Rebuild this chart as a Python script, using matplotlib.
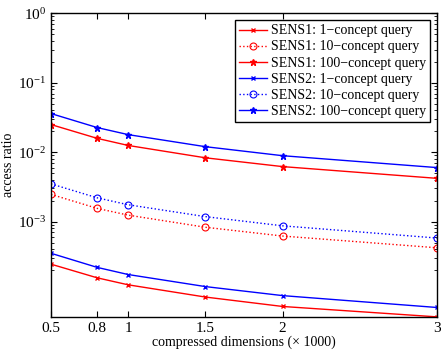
import matplotlib
matplotlib.use("Agg")
import matplotlib.pyplot as plt
from matplotlib.ticker import FixedLocator, NullFormatter

plt.rcParams['font.family'] = ['Liberation Serif', 'DejaVu Serif']
plt.rcParams['mathtext.fontset'] = 'stix'

dims = [0.5, 0.8, 1, 1.5, 2, 3]
xtick_labels = ['0.5', '0.8', '1', '1.5', '2', '3']

sens1_1 = [2.44e-4, 1.55e-4, 1.23e-4, 8.2e-5, 6.0e-5, 4.25e-5]
sens1_10 = [2.47e-3, 1.55e-3, 1.24e-3, 8.3e-4, 6.2e-4, 4.2e-4]
sens1_100 = [0.025, 0.0158, 0.0125, 0.0083, 0.0062, 0.0042]
sens2_1 = [3.5e-4, 2.19e-4, 1.73e-4, 1.16e-4, 8.6e-5, 5.8e-5]
sens2_10 = [3.5e-3, 2.2e-3, 1.75e-3, 1.18e-3, 8.7e-4, 5.8e-4]
sens2_100 = [0.036, 0.0226, 0.0179, 0.012, 0.0089, 0.006]

labels = ['SENS1: 1\u2212concept query', 'SENS1: 10\u2212concept query',
          'SENS1: 100\u2212concept query', 'SENS2: 1\u2212concept query',
          'SENS2: 10\u2212concept query', 'SENS2: 100\u2212concept query']

major_y = [1e0, 1e-1, 1e-2, 1e-3]
minor_y = [m * 10.0 ** e for e in (-1, -2, -3, -4) for m in range(2, 10)]

fig = plt.figure(figsize=(4.41, 3.54), dpi=100)
ax = fig.add_axes([0.1156, 0.1054, 0.8754, 0.857])

ax.plot(dims, sens1_1, color='red', ls='-', marker='x', ms=3, mew=1, lw=1, label=labels[0])
ax.plot(dims, sens1_10, color='red', ls=':', marker='o', ms=5, mfc='none', mew=0.8, lw=1, label=labels[1])
ax.plot(dims, sens1_100, color='red', ls='-', marker='*', ms=4.5, lw=1, label=labels[2])
ax.plot(dims, sens2_1, color='blue', ls='-', marker='x', ms=3, mew=1, lw=1, label=labels[3])
ax.plot(dims, sens2_10, color='blue', ls=':', marker='o', ms=5, mfc='none', mew=0.8, lw=1, label=labels[4])
ax.plot(dims, sens2_100, color='blue', ls='-', marker='*', ms=4.5, lw=1, label=labels[5])

ax.set_yscale('log')
ax.set_xlim(0.5, 3)
ax.set_ylim(10**-4.369, 1)
ax.set_xticks(dims)
ax.set_xticklabels(xtick_labels)
ax.yaxis.set_major_locator(FixedLocator(major_y))
ax.yaxis.set_minor_locator(FixedLocator([v for v in minor_y if v >= 2e-4]))
ax.yaxis.set_minor_formatter(NullFormatter())
ax.tick_params(which='both', direction='in', top=True, right=True, labelsize=11)
ax.tick_params(which='major', length=4)
ax.tick_params(which='minor', length=2)
for s in ax.spines.values():
    s.set_linewidth(1)

ax.set_xlabel('compressed dimensions (\u00d7 1000)', fontsize=10, labelpad=1)
ax.set_ylabel('access ratio', fontsize=10, labelpad=2)

leg = ax.legend(loc='upper right', fontsize=10, fancybox=False, framealpha=1,
                edgecolor='black', borderaxespad=0.5, handlelength=2.0,
                handletextpad=0.3, labelspacing=0.22, borderpad=0.3)
leg.get_frame().set_linewidth(1)

fig.savefig('out.png', dpi=100)
